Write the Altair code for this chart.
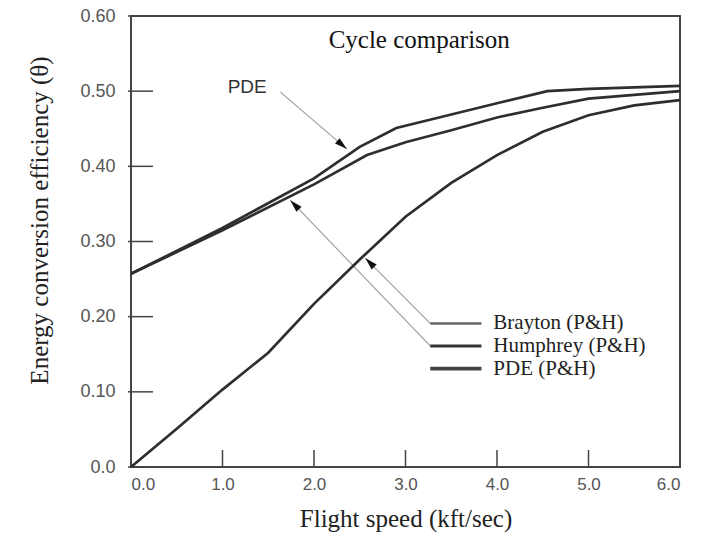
import math
import altair as alt
import pandas as pd

# Energy conversion efficiency vs flight speed for three cycles
brayton_speed = [0.0, 0.5, 1.0, 1.5, 2.0, 2.5, 3.0, 3.5, 4.0, 4.5, 5.0, 5.5, 6.0]
brayton_eff = [0.0, 0.051, 0.103, 0.152, 0.217, 0.276, 0.333, 0.378, 0.415, 0.446, 0.468, 0.481, 0.488]

humphrey_speed = [0.0, 1.0, 2.0, 2.58, 3.0, 3.5, 4.0, 4.5, 5.0, 5.5, 6.0]
humphrey_eff = [0.257, 0.315, 0.376, 0.415, 0.432, 0.448, 0.465, 0.478, 0.490, 0.495, 0.500]

pde_speed = [0.0, 1.0, 2.0, 2.5, 2.9, 3.5, 4.0, 4.55, 5.0, 5.5, 6.0]
pde_eff = [0.257, 0.318, 0.384, 0.426, 0.451, 0.469, 0.484, 0.500, 0.503, 0.505, 0.507]

series_names = ["Brayton (P&H)", "Humphrey (P&H)", "PDE (P&H)"]
x_ticks = [0.0, 1.0, 2.0, 3.0, 4.0, 5.0, 6.0]
y_ticks = [0.0, 0.1, 0.2, 0.3, 0.4, 0.5, 0.6]

# plot geometry
W, H = 549, 451
X_DOM, Y_DOM = [0, 6], [0, 0.6]
PX_X = W / (X_DOM[1] - X_DOM[0])
PX_Y = H / (Y_DOM[1] - Y_DOM[0])

curves = pd.concat([
    pd.DataFrame({"speed": s, "eff": e, "series": n})
    for s, e, n in zip(
        [brayton_speed, humphrey_speed, pde_speed],
        [brayton_eff, humphrey_eff, pde_eff],
        series_names,
    )
])

xs = alt.Scale(domain=X_DOM, nice=False, zero=False)
ys = alt.Scale(domain=Y_DOM, nice=False, zero=False)

SERIF = "Liberation Serif"
SANS = "Liberation Sans"

x_axis = alt.Axis(
    values=x_ticks, format=".1f", ticks=False, domain=False, grid=False,
    labelFont=SANS, labelFontSize=17, labelColor="#555", labelPadding=9,
    title="Flight speed (kft/sec)", titleFont=SERIF, titleFontSize=25,
    titleFontWeight="normal", titleColor="#222", titlePadding=14,
)
y_axis = alt.Axis(
    values=y_ticks, ticks=False, domain=False, grid=False,
    labelExpr="datum.value == 0 ? '0.0' : format(datum.value, '.2f')",
    labelFont=SANS, labelFontSize=18, labelColor="#555", labelPadding=16,
    title="Energy conversion efficiency (θ)", titleFont=SERIF, titleFontSize=25,
    titleFontWeight="normal", titleColor="#222", titlePadding=27, titleY=204,
)

lines = alt.Chart(curves).mark_line(color="#2e2e2e", strokeWidth=2.7).encode(
    x=alt.X("speed:Q", scale=xs, axis=x_axis),
    y=alt.Y("eff:Q", scale=ys, axis=y_axis),
    detail="series:N",
)

# inward tick marks
xt = alt.Chart(pd.DataFrame({"v": x_ticks})).mark_rule(color="#444", strokeWidth=1.5).encode(
    x=alt.X("v:Q", scale=xs), y=alt.value(H), y2=alt.value(H - 17)
)
yt = alt.Chart(pd.DataFrame({"v": y_ticks})).mark_rule(color="#444", strokeWidth=1.5).encode(
    y=alt.Y("v:Q", scale=ys), x=alt.value(-3), x2=alt.value(22)
)

# in-plot title
title_df = pd.DataFrame({"x": [3.15], "y": [0.568], "t": ["Cycle comparison"]})
title = alt.Chart(title_df).mark_text(font=SERIF, fontSize=25, color="#111").encode(
    x=alt.X("x:Q", scale=xs), y=alt.Y("y:Q", scale=ys), text="t:N"
)

# legend block
leg_x0, leg_x1, leg_tx = 3.27, 3.83, 3.96
leg_rows = [0.191, 0.161, 0.131]
leg_df = pd.DataFrame({"series": series_names, "y": leg_rows,
                       "x0": leg_x0, "x1": leg_x1, "tx": leg_tx})
leg_lines = alt.Chart(leg_df).mark_rule().encode(
    x=alt.X("x0:Q", scale=xs), x2="x1:Q", y=alt.Y("y:Q", scale=ys),
    strokeWidth=alt.StrokeWidth("series:N", scale=alt.Scale(domain=series_names, range=[2.4, 3.8, 3.6]), legend=None),
    color=alt.Color("series:N", scale=alt.Scale(domain=series_names, range=["#666", "#333", "#444"]), legend=None),
)
leg_text = alt.Chart(leg_df).mark_text(align="left", baseline="middle", font=SERIF, fontSize=21, color="#222").encode(
    x=alt.X("tx:Q", scale=xs), y=alt.Y("y:Q", scale=ys), text="series:N"
)

# leader arrows: from label/legend to curve
arrow_from_x = [3.27, 3.27, 1.63]
arrow_from_y = [0.191, 0.161, 0.499]
arrow_to_x = [2.56, 1.74, 2.36]
arrow_to_y = [0.278, 0.355, 0.423]
angles = [
    math.degrees(math.atan2((tx - fx) * PX_X, (ty - fy) * PX_Y)) % 360
    for fx, fy, tx, ty in zip(arrow_from_x, arrow_from_y, arrow_to_x, arrow_to_y)
]
arrows = pd.DataFrame({"fx": arrow_from_x, "fy": arrow_from_y,
                       "tx": arrow_to_x, "ty": arrow_to_y, "ang": angles})
leaders = alt.Chart(arrows).mark_rule(color="#9a9a9a", strokeWidth=1.1).encode(
    x=alt.X("fx:Q", scale=xs), y=alt.Y("fy:Q", scale=ys), x2="tx:Q", y2="ty:Q"
)
heads = alt.Chart(arrows).mark_point(
    shape="M0,0L0.28,1L-0.28,1Z", filled=True, color="#111", opacity=1, size=640
).encode(
    x=alt.X("tx:Q", scale=xs), y=alt.Y("ty:Q", scale=ys), angle=alt.Angle("ang:Q", scale=None)
)

pde_df = pd.DataFrame({"x": [1.27], "y": [0.505], "t": ["PDE"]})
pde_label = alt.Chart(pde_df).mark_text(font=SANS, fontSize=19, color="#333").encode(
    x=alt.X("x:Q", scale=xs), y=alt.Y("y:Q", scale=ys), text="t:N"
)

chart = alt.layer(
    leaders, heads, xt, yt, lines, title, leg_lines, leg_text, pde_label
).properties(
    width=W, height=H,
    autosize=alt.AutoSizeParams(type="none"),
    padding={"left": 131, "top": 16, "right": 27, "bottom": 71},
    background="white",
).configure_view(stroke="#444", strokeWidth=2)

chart.save("out.html", embed_options={"renderer": "svg", "actions": False})
